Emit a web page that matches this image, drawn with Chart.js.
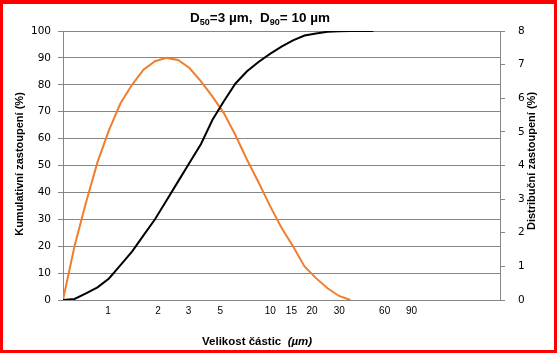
<!DOCTYPE html>
<html>
<head>
<meta charset="utf-8">
<script src="https://cdn.jsdelivr.net/npm/chart.js@4/dist/chart.umd.min.js"></script>
<style>
  html, body { margin: 0; padding: 0; background: #fff; }
  #wrap { width: 557px; height: 353px; position: relative; }
</style>
</head>
<body>
<div id="wrap"><canvas id="chart" width="557" height="353"></canvas></div>
<script>
// sieve steps along the x axis (equal spacing, index 0..38)
const stepCount = 39;

// cumulative share (%), left axis
const cumulative = [0, 0.4, 2.5, 4.7, 8, 13, 18, 24, 30, 37, 44, 51, 58, 67, 74,
  80.5, 85, 88.5, 91.5, 94.2, 96.5, 98.3, 99.1, 99.7, 99.9, 100, 100, 100];

// distribution share (%), right axis
const distribution = [0, 1.6, 2.9, 4.1, 5.05, 5.85, 6.4, 6.85, 7.1, 7.2, 7.14, 6.9,
  6.5, 6.05, 5.55, 4.9, 4.17, 3.5, 2.8, 2.15, 1.6, 1.0, 0.65, 0.35, 0.12, 0];

// particle size labels and the step they sit at
const tickLabels = ["1", "2", "3", "5", "10", "15", "20", "30", "60", "90"];
const tickSteps = [3.91, 8.26, 10.92, 13.68, 18.03, 19.86, 21.65, 24.03, 27.97, 30.3];

const GRID = "#868686";
const ORANGE = "#F07E2E";

function toPoints(values) {
  return values.map((v, i) => ({ x: i, y: v }));
}

function drawRich(ctx, parts, x, y, align) {
  let total = 0;
  for (const p of parts) {
    ctx.font = p.font;
    p.w = ctx.measureText(p.text).width;
    total += p.w;
  }
  let cx = align === "center" ? x - total / 2 : x;
  for (const p of parts) {
    ctx.font = p.font;
    ctx.fillText(p.text, cx, y + (p.dy || 0));
    cx += p.w;
  }
}

const decorations = {
  id: "decorations",
  afterDraw(chart) {
    const ctx = chart.ctx;
    ctx.save();
    ctx.fillStyle = "#000";
    ctx.textBaseline = "alphabetic";
    ctx.textAlign = "left";

    const big = "bold 13.5px 'Liberation Sans'";
    const sub = "bold 9px 'Liberation Sans'";
    drawRich(ctx, [
      { text: "D", font: big },
      { text: "50", font: sub, dy: 3 },
      { text: "=3 µm,  D", font: big },
      { text: "90", font: sub, dy: 3 },
      { text: "= 10 µm", font: big },
    ], 260, 22, "center");

    drawRich(ctx, [
      { text: "Velikost částic  ", font: "bold 11.5px 'Liberation Sans'" },
      { text: "(µm)", font: "italic bold 11.5px 'Liberation Sans'" },
    ], 202, 345, "left");

    ctx.font = "bold 11px 'Liberation Sans'";
    ctx.textAlign = "center";
    ctx.textBaseline = "middle";
    ctx.translate(19.5, 164);
    ctx.rotate(-Math.PI / 2);
    ctx.fillText("Kumulativní zastoupení (%)", 0, 0);
    ctx.setTransform(1, 0, 0, 1, 0, 0);
    ctx.translate(531.5, 161);
    ctx.rotate(-Math.PI / 2);
    ctx.fillText("Distribuční zastoupení (%)", 0, 0);
    ctx.setTransform(1, 0, 0, 1, 0, 0);

    ctx.fillStyle = "#ff0000";
    ctx.fillRect(0, 0, 557, 4);
    ctx.fillRect(0, 350, 557, 3);
    ctx.fillRect(0, 0, 3, 353);
    ctx.fillRect(554, 0, 3, 353);
    ctx.restore();
  },
};

new Chart(document.getElementById("chart"), {
  type: "line",
  data: {
    datasets: [
      {
        label: "Kumulativní",
        data: toPoints(cumulative),
        borderColor: "#000",
        borderWidth: 2,
        pointRadius: 0,
        tension: 0,
        yAxisID: "y",
      },
      {
        label: "Distribuční",
        data: toPoints(distribution),
        borderColor: ORANGE,
        borderWidth: 2,
        pointRadius: 0,
        tension: 0,
        yAxisID: "y1",
      },
    ],
  },
  options: {
    responsive: false,
    animation: false,
    events: [],
    layout: { padding: { top: 31, left: 0, right: 0, bottom: 0 } },
    plugins: {
      legend: { display: false },
      tooltip: { enabled: false },
    },
    scales: {
      x: {
        type: "linear",
        min: 0,
        max: stepCount - 1,
        grid: { display: false, drawTicks: false },
        border: { display: true, color: GRID, width: 1 },
        afterBuildTicks: (scale) => {
          scale.ticks = tickSteps.map((v) => ({ value: v }));
        },
        afterFit: (scale) => { scale.height = 53; },
        ticks: {
          autoSkip: false,
          maxRotation: 0,
          padding: 5,
          color: "#000",
          font: { family: "'Liberation Sans'", size: 10 },
          callback: (value, index) => tickLabels[index],
        },
      },
      y: {
        position: "left",
        min: 0,
        max: 100,
        afterFit: (scale) => { scale.width = 63; },
        grid: { color: GRID, tickLength: 5, tickColor: GRID },
        border: { display: true, color: GRID },
        ticks: {
          stepSize: 10,
          padding: 7,
          color: "#000",
          font: { family: "'DejaVu Sans'", size: 10.5 },
        },
      },
      y1: {
        position: "right",
        min: 0,
        max: 8,
        afterFit: (scale) => { scale.width = 57; },
        grid: { drawOnChartArea: false, tickLength: 5, tickColor: GRID },
        border: { display: true, color: GRID },
        ticks: {
          stepSize: 1,
          padding: 13,
          color: "#000",
          font: { family: "'DejaVu Sans'", size: 10.5 },
        },
      },
    },
  },
  plugins: [decorations],
});
</script>
</body>
</html>
